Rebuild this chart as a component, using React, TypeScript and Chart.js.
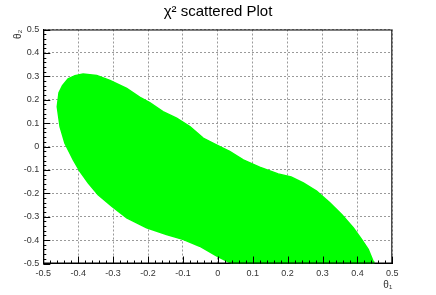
import React, { useEffect, useRef } from "react";
import { Chart, registerables } from "chart.js";

Chart.register(...registerables);

// Outline of the scattered region (θ1, θ2), going round the blob
const outlineTheta1 = [
  -0.46, -0.455, -0.445, -0.429, -0.409, -0.386, -0.347, -0.309, -0.261, -0.224,
  -0.195, -0.157, -0.118, -0.08, -0.042, -0.004, 0.034, 0.073, 0.12, 0.173,
  0.21, 0.245, 0.283, 0.321, 0.355, 0.388, 0.412, 0.431, 0.445, 0.447,
  0.04, 0.0, -0.052, -0.1, -0.147, -0.204, -0.261, -0.304, -0.343, -0.371,
  -0.395, -0.414, -0.438, -0.452, -0.46,
];
const outlineTheta2 = [
  0.17, 0.23, 0.26, 0.289, 0.303, 0.31, 0.303, 0.282, 0.248, 0.211,
  0.187, 0.149, 0.121, 0.085, 0.036, 0.007, -0.021, -0.057, -0.088, -0.117,
  -0.13, -0.156, -0.191, -0.241, -0.291, -0.347, -0.397, -0.44, -0.49, -0.5,
  -0.5, -0.47, -0.426, -0.397, -0.376, -0.347, -0.305, -0.255, -0.206, -0.156,
  -0.106, -0.057, 0.014, 0.085, 0.17,
];

const axisMin = -0.5;
const axisMax = 0.5;
const majorStep = 0.1;
const minorDivisions = 5;

const titleText = "χ² scattered Plot";
const xTitle = "θ₁";
const yTitle = "θ₂";

const fmt = (v: number | string) => {
  const n = Number(Number(v).toFixed(1));
  return (n === 0 ? 0 : n).toString();
};

const framePlugin = {
  id: "rootFrame",
  afterDatasetsDraw(chart: any) {
    const { ctx, chartArea: a, scales } = chart;
    const xs = scales.x;
    const ys = scales.y;
    ctx.save();
    ctx.strokeStyle = "#000";
    ctx.lineWidth = 1;
    ctx.strokeRect(a.left + 0.5, a.top + 0.5, a.right - a.left - 1, a.bottom - a.top - 1);
    ctx.beginPath();
    const n = Math.round((axisMax - axisMin) / majorStep) * minorDivisions;
    for (let i = 0; i <= n; i++) {
      const v = axisMin + (i * majorStep) / minorDivisions;
      const major = i % minorDivisions === 0;
      const len = major ? 7 : 3;
      const px = Math.round(xs.getPixelForValue(v)) + 0.5;
      ctx.moveTo(px, a.bottom);
      ctx.lineTo(px, a.bottom - len);
      const py = Math.round(ys.getPixelForValue(v)) + 0.5;
      ctx.moveTo(a.left, py);
      ctx.lineTo(a.left + len, py);
    }
    ctx.stroke();
    ctx.restore();
  },
};

export default function App() {
  const ref = useRef<HTMLCanvasElement | null>(null);

  useEffect(() => {
    if (!ref.current) return;
    const pts = outlineTheta1.map((x, i) => ({ x, y: outlineTheta2[i] }));
    const tickFont = { family: "'Liberation Sans', Arial, sans-serif", size: 9 };
    const chart = new Chart(ref.current, {
      type: "scatter",
      data: {
        datasets: [
          {
            label: "scatter",
            data: pts,
            showLine: true,
            fill: "shape",
            tension: 0,
            backgroundColor: "#00ff00",
            borderColor: "#00ff00",
            borderWidth: 1.5,
            pointRadius: 0,
          } as any,
        ],
      },
      options: {
        animation: false,
        responsive: false,
        devicePixelRatio: 1,
        layout: { padding: 0 },
        plugins: {
          legend: { display: false },
          tooltip: { enabled: false },
          title: {
            display: true,
            text: titleText,
            color: "#000",
            font: { family: "'Liberation Sans', Arial, sans-serif", size: 15, weight: "normal" },
            padding: { top: 3, bottom: 8.5 },
          },
        },
        scales: {
          x: {
            type: "linear",
            min: axisMin,
            max: axisMax,
            afterFit: (s: any) => {
              s.height = 31.5;
            },
            ticks: {
              stepSize: majorStep,
              padding: 5,
              color: "#333",
              font: tickFont,
              callback: (v: any) => fmt(v),
              maxRotation: 0,
            },
            grid: { color: "#9a9a9a", drawTicks: false, lineWidth: 1 },
            border: { display: true, color: "#000", width: 1, dash: [2, 2] },
            title: {
              display: true,
              text: xTitle,
              align: "end",
              color: "#333",
              font: { family: "'Liberation Sans', Arial, sans-serif", size: 10 },
              padding: { top: 0, bottom: 4 },
            },
          },
          y: {
            type: "linear",
            min: axisMin,
            max: axisMax,
            afterFit: (s: any) => {
              s.width = 43.3;
            },
            ticks: {
              stepSize: majorStep,
              padding: 4,
              color: "#333",
              font: tickFont,
              callback: (v: any) => fmt(v),
            },
            grid: { color: "#9a9a9a", drawTicks: false, lineWidth: 1 },
            border: { display: true, color: "#000", width: 1, dash: [2, 2] },
            title: {
              display: true,
              text: yTitle,
              align: "end",
              color: "#333",
              font: { family: "'Liberation Sans', Arial, sans-serif", size: 10 },
              padding: { top: 12, bottom: 0 },
            },
          },
          yRight: {
            type: "linear",
            position: "right",
            display: true,
            min: axisMin,
            max: axisMax,
            afterFit: (s: any) => {
              s.width = 43.7;
            },
            ticks: { display: false },
            grid: { display: false, drawTicks: false },
            border: { display: false },
          },
        },
      },
      plugins: [framePlugin],
    } as any);
    return () => chart.destroy();
  }, []);

  return (
    <div style={{ position: "absolute", left: 0, top: 0, width: 436, height: 295, background: "#fff" }}>
      <canvas ref={ref} width={436} height={295} style={{ display: "block" }} />
    </div>
  );
}
